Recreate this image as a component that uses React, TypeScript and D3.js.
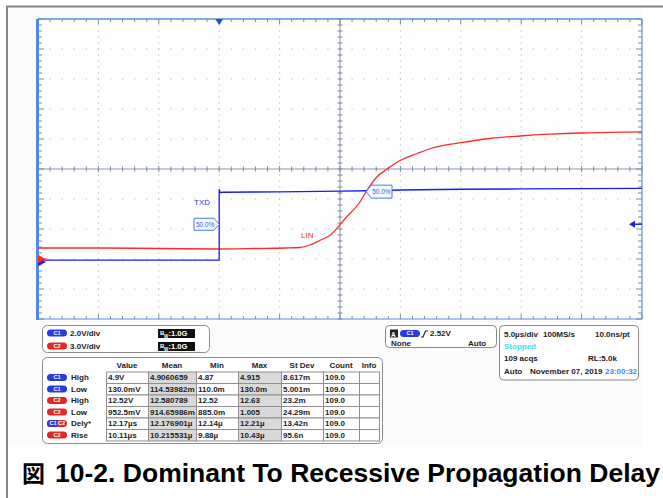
import React from 'react';
import * as d3 from 'd3';

// ---- waveform data (time in µs relative to trigger, volts) ----
const tRed = [-15, -10, -5, 0, 3, 5.5, 6.7, 7.5, 8.4, 9.2, 10.4, 11.7, 12.2, 13.05, 13.9, 14.9, 16.4, 17.5, 20, 22.4, 24.9, 27.4, 29.9, 32.4, 35];
const vRed = [1.1, 1.1, 1.05, 1.0, 1.05, 1.1, 1.15, 1.4, 1.9, 2.4, 4.0, 5.8, 6.8, 8.2, 9.0, 9.8, 10.55, 11.05, 11.63, 12.05, 12.3, 12.48, 12.6, 12.66, 12.72];
const tBlue = [-15, -5, 0, 0, 0.08, 0.3, 5, 10, 12.2, 15, 20, 25, 30, 35];
const vBlue = [0.13, 0.13, 0.13, 4.85, 4.62, 4.65, 4.68, 4.73, 4.75, 4.8, 4.85, 4.87, 4.89, 4.91];

// ---- measurement table ----
const measChannels = [['C1'], ['C1'], ['C2'], ['C2'], ['C1', 'C2'], ['C2']];
const measNames = ['High', 'Low', 'High', 'Low', 'Dely*', 'Rise'];
const colHeaders = ['Value', 'Mean', 'Min', 'Max', 'St Dev', 'Count', 'Info'];
const valueCol = ['4.9V', '130.0mV', '12.52V', '952.5mV', '12.17µs', '10.11µs'];
const meanCol = ['4.9060659', '114.53982m', '12.580789', '914.65986m', '12.176901µ', '10.215531µ'];
const minCol = ['4.87', '110.0m', '12.52', '885.0m', '12.14µ', '9.88µ'];
const maxCol = ['4.915', '130.0m', '12.63', '1.005', '12.21µ', '10.43µ'];
const stdCol = ['8.617m', '5.001m', '23.2m', '24.29m', '13.42n', '95.6n'];
const countCol = ['109.0', '109.0', '109.0', '109.0', '109.0', '109.0'];
const infoCol = ['', '', '', '', '', ''];

const C1_VDIV = 2.0;
const C2_VDIV = 3.0;
const C1_OFFSET = -3.1; // divisions
const C2_OFFSET = -3.0;
const TRIG_LEVEL = 2.52;

const FONT = "'Liberation Sans', Arial, sans-serif";
const BLUE = '#1c1ce8';
const RED = '#ff2a2a';
const PILL_BLUE = '#2a3be0';
const PILL_RED = '#e02828';

function Pill({ x, y, chans }: { x: number; y: number; chans: string[] }) {
  const w = 20;
  const h = 7;
  if (chans.length === 1) {
    const c = chans[0] === 'C1' ? PILL_BLUE : PILL_RED;
    return (
      <g>
        <rect x={x} y={y} width={w} height={h} rx={3.5} fill={c} />
        <text x={x + w / 2} y={y + 5.3} fontSize={5.5} fontWeight="bold" fill="#fff" textAnchor="middle" fontFamily={FONT}>{chans[0]}</text>
      </g>
    );
  }
  return (
    <g>
      <rect x={x} y={y} width={w} height={h} rx={3.5} fill={PILL_RED} />
      <path d={`M${x + 3.5},${y} H${x + 10} V${y + h} H${x + 3.5} A3.5,3.5 0 0 1 ${x + 3.5},${y}Z`} fill={PILL_BLUE} />
      <text x={x + 6} y={y + 5.3} fontSize={5.5} fontWeight="bold" fill="#fff" textAnchor="middle" fontFamily={FONT}>{chans[0]}</text>
      <text x={x + 14.5} y={y + 5.3} fontSize={5.5} fontWeight="bold" fill="#fff" textAnchor="middle" fontFamily={FONT}>{chans[1]}</text>
    </g>
  );
}

export default function App() {
  const W = 663;
  const H = 498;
  const L = 38, R = 642, T = 19, B = 319;
  const xDiv = d3.scaleLinear().domain([0, 10]).range([L, R]);
  const yDiv = d3.scaleLinear().domain([-5, 5]).range([B, T]);
  const xTime = d3.scaleLinear().domain([-15, 35]).range([L, R]);
  const yC1 = (v: number) => yDiv(C1_OFFSET + v / C1_VDIV);
  const yC2 = (v: number) => yDiv(C2_OFFSET + v / C2_VDIV);

  const redPts: [number, number][] = tRed.map((t, i) => [xTime(t), yC2(vRed[i])]);
  const bluePts: [number, number][] = tBlue.map((t, i) => [xTime(t), yC1(vBlue[i])]);
  const redPath = d3.line().curve(d3.curveMonotoneX)(redPts) || '';
  const bluePath = d3.line()(bluePts) || '';

  const minorX = d3.range(0, 50.001, 1).map((i) => xDiv(i / 5));
  const minorY = d3.range(0, 50.001, 1).map((i) => yDiv(-5 + i / 5));
  const tickCol = '#7d8ca3';
  const axisCol = '#8a97ab';

  const cx = xDiv(5);
  const cy = yDiv(0);
  const trigX = xTime(0);
  const trigY = yC1(TRIG_LEVEL);

  const c1Half = yC1((0.13 + 4.9) / 2);
  const c2Half = yC2((0.9525 + 12.52) / 2);
  const redCrossX = xTime(12.17);

  // table layout
  const colEdges = [106, 148, 196, 238, 281, 323, 359, 379];
  const rowTop = 371.5;
  const rowH = 11.5;
  const cols = [valueCol, meanCol, minCol, maxCol, stdCol, countCol, infoCol];

  return (
    <svg width={W} height={H} style={{ position: 'absolute', left: 0, top: 0 }} fontFamily={FONT}>
      <rect x={0} y={0} width={W} height={H} fill="#ffffff" />
      <rect x={8} y={7} width={634} height={440} fill="#fbfbfb" />
      {/* outer frame */}
      <line x1={6} y1={6.5} x2={W} y2={6.5} stroke="#858585" strokeWidth={2} />
      <line x1={7} y1={6} x2={7} y2={H} stroke="#858585" strokeWidth={2} />

      {/* plot area */}
      <rect x={L} y={T} width={R - L} height={B - T} fill="#fefefe" />
      {/* dotted grid */}
      {d3.range(1, 10).map((i) => (
        <line key={'gy' + i} x1={L} x2={R} y1={yDiv(-5 + i)} y2={yDiv(-5 + i)} stroke="#b4b8c0" strokeWidth={1} strokeDasharray="1.2 10.88" strokeDashoffset={-11.5} />
      ))}
      {d3.range(1, 10).map((i) => (
        <line key={'gx' + i} x1={xDiv(i)} x2={xDiv(i)} y1={T} y2={B} stroke="#b4b8c0" strokeWidth={1} strokeDasharray="1.2 4.8" strokeDashoffset={-5.5} />
      ))}
      {/* center axes */}
      <line x1={L} x2={R} y1={cy} y2={cy} stroke={axisCol} strokeWidth={1} />
      <line x1={cx} x2={cx} y1={T} y2={B} stroke={axisCol} strokeWidth={1} />
      {minorX.map((x, i) => (
        <line key={'cxt' + i} x1={x} x2={x} y1={cy - (i % 5 === 0 ? 3 : 2.5)} y2={cy + (i % 5 === 0 ? 3 : 2.5)} stroke={tickCol} strokeWidth={1} />
      ))}
      {minorY.map((y, i) => (
        <line key={'cyt' + i} x1={cx - 2.5} x2={cx + 2.5} y1={y} y2={y} stroke={tickCol} strokeWidth={1} />
      ))}
      {/* border ticks */}
      {minorX.map((x, i) => (
        <g key={'bt' + i}>
          <line x1={x} x2={x} y1={T} y2={T + (i % 5 === 0 ? 5 : 3)} stroke={tickCol} strokeWidth={1} />
          <line x1={x} x2={x} y1={B} y2={B - (i % 5 === 0 ? 5 : 3)} stroke={tickCol} strokeWidth={1} />
        </g>
      ))}
      {minorY.map((y, i) => (
        <g key={'lt' + i}>
          <line x1={L} x2={L + (i % 5 === 0 ? 6 : 4)} y1={y} y2={y} stroke={tickCol} strokeWidth={1} />
          <line x1={R} x2={R - (i % 5 === 0 ? 6 : 4)} y1={y} y2={y} stroke={tickCol} strokeWidth={1} />
        </g>
      ))}
      {/* borders */}
      <line x1={L} x2={R} y1={T} y2={T} stroke="#5a8fdc" strokeWidth={1.5} />
      <line x1={L} x2={R} y1={B} y2={B} stroke="#5a8fdc" strokeWidth={1.2} />
      <line x1={R} x2={R} y1={T} y2={B} stroke="#5a8fdc" strokeWidth={1.2} />
      <line x1={L - 0.5} x2={L - 0.5} y1={T} y2={B + 1} stroke="#4f8ae6" strokeWidth={3} />

      {/* trigger position marker */}
      <path d={`M${trigX - 4},${T} L${trigX + 4},${T} L${trigX},${T + 6} Z`} fill="#1f4fd8" />
      {/* trigger level marker */}
      <path d={`M${R - 13},${trigY} L${R - 7},${trigY - 3.5} L${R - 7},${trigY + 3.5} Z`} fill={BLUE} />
      <line x1={R - 7} x2={R} y1={trigY} y2={trigY} stroke={BLUE} strokeWidth={1.5} />

      {/* traces */}
      <path d={redPath} fill="none" stroke={RED} strokeWidth={1.3} />
      <path d={bluePath} fill="none" stroke={BLUE} strokeWidth={1.3} />

      {/* ground markers */}
      <path d={`M${L},${yC1(0) - 4} L${L + 8},${yC1(0)} L${L},${yC1(0) + 4} Z`} fill={BLUE} />
      <path d={`M${L},${yC2(0) - 4.5} L${L + 7},${yC2(0)} L${L},${yC2(0) + 4.5} Z`} fill={RED} />
      <line x1={L} x2={L + 9} y1={yC2(0)} y2={yC2(0)} stroke={RED} strokeWidth={1.2} />

      {/* labels */}
      <text x={194} y={204.5} fontSize={8} fill="#3a3ae0">TXD</text>
      <text x={301} y={238} fontSize={8} fill="#ee3030">LIN</text>
      <path d={`M194,${c1Half - 6} H214 L${trigX},${c1Half} L214,${c1Half + 6} H194 Z`} fill="#f4f8ff" stroke="#4b7fe0" strokeWidth={1} />
      <text x={196} y={c1Half + 2.5} fontSize={6.5} fill="#3a64d8">50.0%</text>
      <path d={`M${redCrossX},${c2Half} L${redCrossX + 5},${c2Half - 6.5} H392 V${c2Half + 6.5} H${redCrossX + 5} Z`} fill="#f4f8ff" stroke="#4b7fe0" strokeWidth={1} />
      <text x={redCrossX + 6} y={c2Half + 2.5} fontSize={6.5} fill="#3a64d8">50.0%</text>

      {/* vertical scale panel */}
      <rect x={42.5} y={325.5} width={167} height={27} rx={5} fill="#fff" stroke="#8a8a8a" strokeWidth={1} />
      <Pill x={47} y={329.5} chans={['C1']} />
      <text x={70} y={336} fontSize={8} fontWeight="bold" fill="#222">{C1_VDIV.toFixed(1)}V/div</text>
      <Pill x={47} y={342.5} chans={['C2']} />
      <text x={70} y={349} fontSize={8} fontWeight="bold" fill="#222">{C2_VDIV.toFixed(1)}V/div</text>
      {[329, 342].map((y, i) => (
        <g key={'bw' + i}>
          <rect x={158} y={y} width={37} height={9} fill="#111" />
          <text x={160} y={y + 6} fontSize={6} fontWeight="bold" fill="#fff">B</text>
          <text x={164} y={y + 8.5} fontSize={4.5} fontWeight="bold" fill="#fff">W</text>
          <text x={168.5} y={y + 7} fontSize={7.5} fontWeight="bold" fill="#fff">:1.0G</text>
        </g>
      ))}

      {/* trigger panel */}
      <rect x={385.5} y={325.5} width={111} height={22} rx={4} fill="#fff" stroke="#8a8a8a" strokeWidth={1} />
      <rect x={390} y={329.5} width={8} height={8} fill="#222" />
      <text x={391} y={336.5} fontSize={6.5} fontWeight="bold" fill="#fff">A</text>
      <Pill x={400} y={330} chans={['C1']} />
      <path d="M421,337 H423 L425.5,331 H428" fill="none" stroke="#222" strokeWidth={1.2} />
      <text x={430} y={336} fontSize={8} fontWeight="bold" fill="#222">{TRIG_LEVEL.toFixed(2)}V</text>
      <text x={391} y={346} fontSize={8} fontWeight="bold" fill="#222">None</text>
      <text x={468} y={346} fontSize={8} fontWeight="bold" fill="#222">Auto</text>

      {/* horizontal panel */}
      <rect x={499.5} y={325.5} width={139} height={54.5} rx={4} fill="#fff" stroke="#8a8a8a" strokeWidth={1} />
      <text x={504} y={336.5} fontSize={8} fontWeight="bold" fill="#222">5.0µs/div</text>
      <text x={543} y={336.5} fontSize={8} fontWeight="bold" fill="#222">100MS/s</text>
      <text x={595} y={336.5} fontSize={8} fontWeight="bold" fill="#222">10.0ns/pt</text>
      <text x={504} y={348.5} fontSize={8} fontWeight="bold" fill="#3fe0f0">Stopped</text>
      <text x={504} y={361} fontSize={8} fontWeight="bold" fill="#222">109 acqs</text>
      <text x={588} y={361} fontSize={8} fontWeight="bold" fill="#222">RL:5.0k</text>
      <text x={504} y={373.5} fontSize={8} fontWeight="bold" fill="#222">Auto</text>
      <text x={530} y={373.5} fontSize={8} fontWeight="bold" fill="#222">November 07, 2019</text>
      <text x={605} y={373.5} fontSize={8} fontWeight="bold" fill="#3a8af0">23:00:32</text>

      {/* measurement table */}
      <rect x={42.5} y={357.5} width={340} height={86} rx={5} fill="#fff" stroke="#8a8a8a" strokeWidth={1} />
      {colHeaders.map((h, j) => (
        <text key={'h' + j} x={(colEdges[j] + colEdges[j + 1]) / 2} y={368} fontSize={8} fontWeight="bold" fill="#222" textAnchor="middle">{h}</text>
      ))}
      {measNames.map((name, i) => {
        const y0 = rowTop + i * rowH;
        return (
          <g key={'r' + i}>
            <Pill x={47} y={y0 + 2.5} chans={measChannels[i]} />
            <text x={71} y={y0 + 8.8} fontSize={8} fontWeight="bold" fill="#222">{name}</text>
            {cols.map((col, j) => (
              <g key={'c' + j}>
                <rect x={colEdges[j] + 0.5} y={y0 + 0.5} width={colEdges[j + 1] - colEdges[j]} height={rowH} fill={j === 1 || j === 3 ? '#d9d9d9' : '#fff'} stroke="#8f8f8f" strokeWidth={1} />
                <text x={colEdges[j] + 2} y={y0 + 8.8} fontSize={8} fontWeight="bold" fill="#222">{col[i]}</text>
              </g>
            ))}
          </g>
        );
      })}

      {/* title */}
      <text x={22} y={482} fontSize={23} fontWeight="bold" fill="#000" fontFamily="'Noto Sans CJK JP', 'Noto Sans CJK SC', sans-serif">図</text>
      <text x={55} y={482} fontSize={26} fontWeight="bold" fill="#000" textLength={605} lengthAdjust="spacingAndGlyphs">10-2. Dominant To Recessive Propagation Delay</text>
    </svg>
  );
}
